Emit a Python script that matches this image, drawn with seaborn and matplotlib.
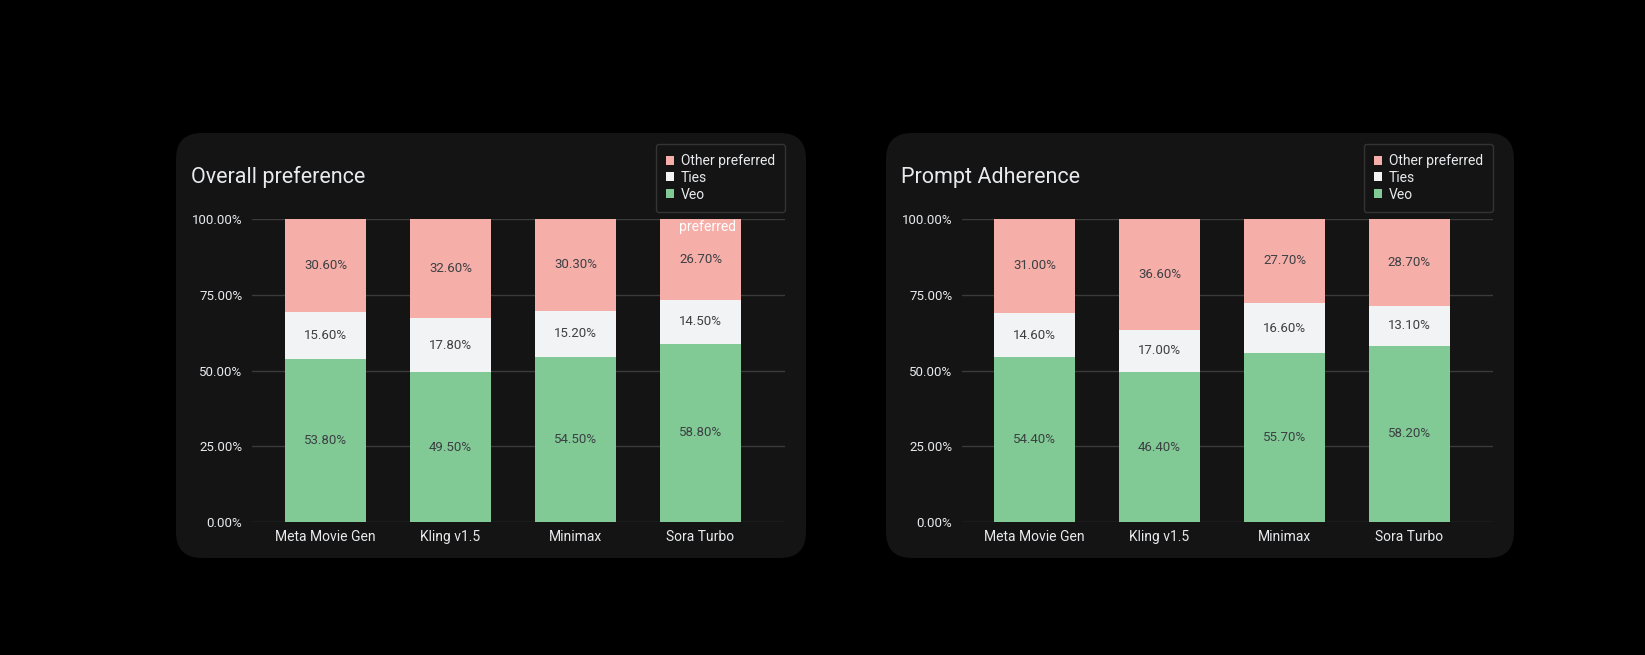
import matplotlib
matplotlib.use("Agg")
import matplotlib.pyplot as plt
import seaborn as sns
import pandas as pd
from matplotlib.patches import FancyBboxPatch, Patch
from matplotlib.transforms import IdentityTransform

# data
models = ["Meta Movie Gen", "Kling v1.5", "Minimax", "Sora Turbo"]
series = ["Other preferred", "Ties", "Veo"]

overall_veo = [53.8, 49.5, 54.5, 58.8]
overall_ties = [15.6, 17.8, 15.2, 14.5]
overall_other = [30.6, 32.6, 30.3, 26.7]

prompt_veo = [54.4, 46.4, 55.7, 58.2]
prompt_ties = [14.6, 17.0, 16.6, 13.1]
prompt_other = [31.0, 36.6, 27.7, 28.7]
# the source chart draws the Kling bar with a different split than its labels
prompt_veo_drawn = [54.4, 49.5, 55.7, 58.2]
prompt_ties_drawn = [14.6, 13.9, 16.6, 13.1]

yticks = [0, 25, 50, 75, 100]

GREEN = "#81c995"
WHITE = "#f1f3f4"
PINK = "#f6aea9"
PANEL = "#141414"
GRID = "#3a3a3a"
TEXT = "#e8eaed"
LABEL = "#3c4043"

W, H = 1645, 655


def fx(px):
    return px / W


def fy(py):
    return 1 - py / H


def draw_panel(fig, box, ax_box, title, veo, ties, other, veo_lbl, ties_lbl, other_lbl, xlim):
    x0, y0, x1, y1 = box
    # rounded card behind the chart, in pixel coordinates
    fig.patches.append(FancyBboxPatch((x0, H - y1), x1 - x0, y1 - y0,
                                      boxstyle="round,pad=0,rounding_size=26",
                                      transform=IdentityTransform(), facecolor=PANEL,
                                      edgecolor="none", zorder=-1))
    fig.text(fx(x0 + 15), fy(177), title, color=TEXT, fontsize=15.5, va="center", ha="left")

    ax0, ay0, ax1, ay1 = ax_box
    ax = fig.add_axes([fx(ax0), fy(ay1), fx(ax1 - ax0), (ay1 - ay0) / H])
    ax.set_facecolor(PANEL)

    df = pd.DataFrame({"model": models, "veo": veo, "ties": ties, "other": other})
    df["top"] = df["veo"] + df["ties"] + df["other"]
    df["mid"] = df["veo"] + df["ties"]
    # layered bars: full height pink, then ties+veo white, then veo green
    for col, c in [("top", PINK), ("mid", WHITE), ("veo", GREEN)]:
        sns.barplot(data=df, x="model", y=col, color=c, saturation=1, width=0.648,
                    linewidth=0, ax=ax, zorder=3)

    for i in range(len(models)):
        segs = [(0, df["veo"][i], veo_lbl[i]),
                (df["veo"][i], df["mid"][i], ties_lbl[i]),
                (df["mid"][i], df["top"][i], other_lbl[i])]
        for lo, hi, v in segs:
            ax.text(i, (lo + hi) / 2, f"{v:.2f}%", ha="center", va="center",
                    color=LABEL, fontsize=9.5, zorder=4)

    ax.set_xlim(*xlim)
    ax.set_ylim(0, 100)
    ax.set_yticks(yticks)
    ax.set_yticklabels([f"{t:.2f}%" for t in yticks])
    ax.grid(axis="y", color=GRID, linewidth=1)
    ax.grid(axis="x", visible=False)
    ax.set_axisbelow(True)
    ax.set_xlabel("")
    ax.set_ylabel("")
    for s in ax.spines.values():
        s.set_visible(False)
    ax.tick_params(axis="both", length=0, colors=TEXT, labelsize=9.5)
    ax.tick_params(axis="y", pad=7)
    ax.tick_params(axis="x", pad=6, labelsize=10)

    handles = [Patch(facecolor=c, edgecolor="none") for c in [PINK, WHITE, GREEN]]
    leg = ax.legend(handles, series, loc="upper right",
                    bbox_to_anchor=(1.0, 1 + 75 / (ay1 - ay0)), borderaxespad=0,
                    fontsize=10, labelcolor=TEXT, frameon=True, fancybox=True,
                    handlelength=0.6, handleheight=0.6, handletextpad=0.5,
                    labelspacing=0.2, borderpad=0.72)
    leg.get_frame().set_facecolor(PANEL)
    leg.get_frame().set_edgecolor("#3c3c3c")
    leg.get_frame().set_linewidth(1)
    return ax


sns.set_theme(style="dark")
plt.rcParams["font.family"] = ["Roboto", "DejaVu Sans"]

fig = plt.figure(figsize=(W / 100, H / 100), dpi=100)
fig.patch.set_facecolor("black")

ax_left = draw_panel(fig, (176, 133, 806, 558), (252, 219, 785, 522), "Overall preference",
                     overall_veo, overall_ties, overall_other,
                     overall_veo, overall_ties, overall_other, (-0.588, 3.676))
ax_right = draw_panel(fig, (886, 133, 1514, 558), (962, 219, 1493, 522), "Prompt Adherence",
                      prompt_veo_drawn, prompt_ties_drawn, prompt_other,
                      prompt_veo, prompt_ties, prompt_other, (-0.58, 3.668))

# stray wrapped legend text visible on the Sora Turbo bar in the original
ax_left.text(3 + 0.648 / 2 - 0.04, 97.3, "preferred", color="white", fontsize=10,
             ha="right", va="center", zorder=5)

fig.savefig("out.png", dpi=100, facecolor=fig.get_facecolor())
